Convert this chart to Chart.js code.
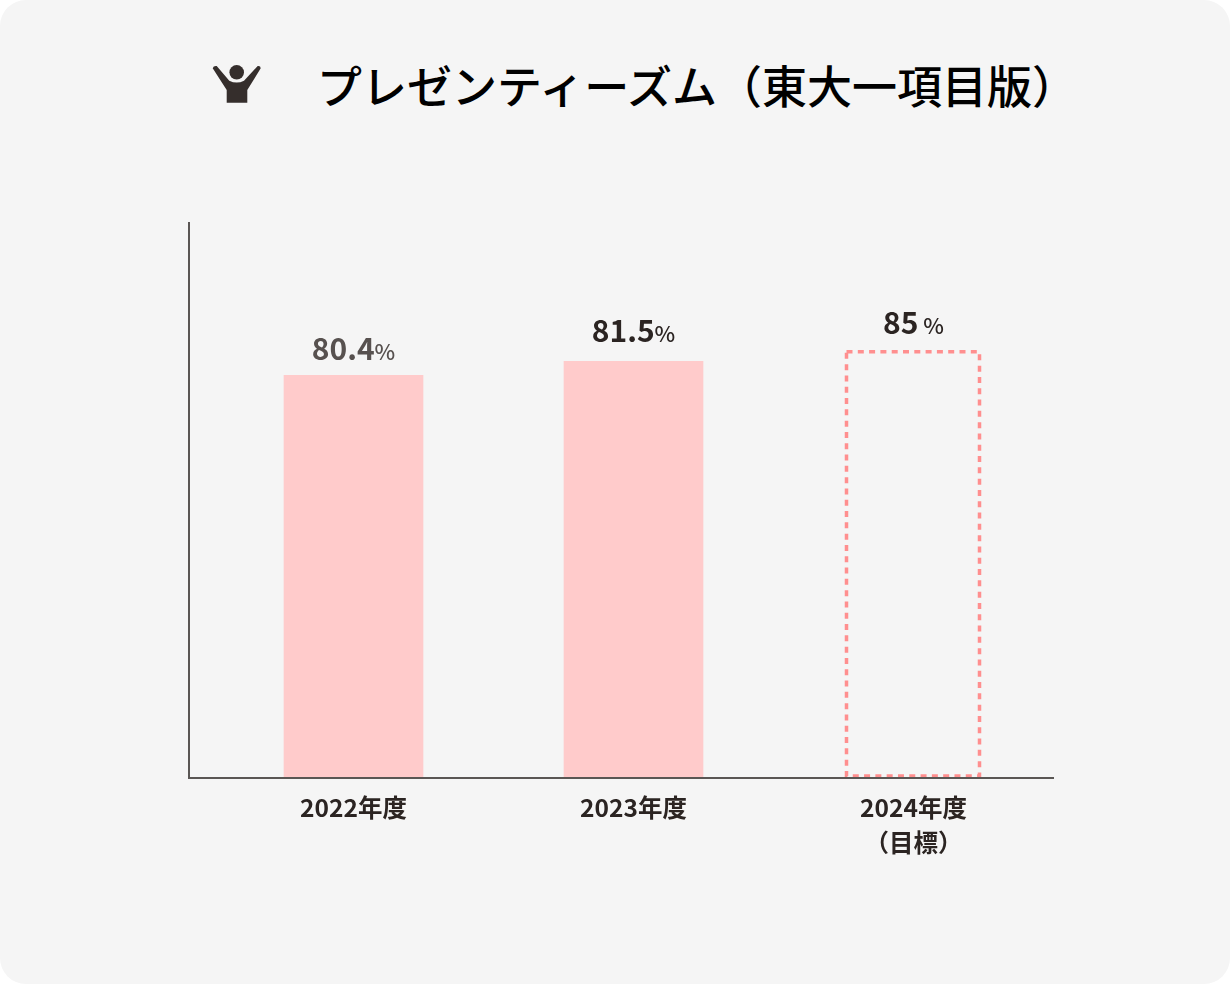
<!DOCTYPE html>
<html lang="ja">
<head>
<meta charset="utf-8">
<title>プレゼンティーズム（東大一項目版）</title>
<script src="https://cdn.jsdelivr.net/npm/chart.js@4/dist/chart.umd.min.js"></script>
<style>
  html, body { margin: 0; padding: 0; background: #fff; }
  body { width: 1230px; height: 984px; overflow: hidden; font-family: "Noto Sans CJK JP", sans-serif; }
  #card { position: absolute; left: 0; top: 0; width: 1230px; height: 984px; background: #f5f5f5; border-radius: 26px; }
  #icon { position: absolute; left: 212px; top: 64px; }
  #title { position: absolute; left: 317px; top: 53px; font-size: 45px; line-height: 64px; color: #000; white-space: nowrap; font-weight: 500; }
  canvas { position: absolute; left: 0; top: 0; }
</style>
</head>
<body>
<div id="card"></div>
<svg id="icon" width="50" height="42" viewBox="0 0 50 42">
  <circle cx="24.7" cy="8.3" r="7.3" fill="#352e2c"/>
  <path d="M0.7 4.3 Q1.5 1.5 4.7 2 L17.3 16.7 Q24.7 20.5 32 16.7 L45.7 2 Q48.5 1.5 48.7 4.3 L35.3 26 L35.3 38.7 L14.7 38.7 L14.7 26 Z" fill="#352e2c"/>
</svg>
<div id="title">プレゼンティーズム（東大一項目版）</div>
<canvas id="chart" width="1230" height="984"></canvas>
<script>
const categories = [["2022年度"], ["2023年度"], ["2024年度", "（目標）"]];
const valueLabels = ["80.4", "81.5", "85"];
// bar heights as drawn in the picture (the 2023 bar is taller than its label says)
const barValues = [80.4, 83.2, 85];

const AXIS = "#5a5654";
const TEXT = "#2b2422";
const PINK = "#ffcbcb";
const DASH = "#ff8f8f";

// dashed target box + value labels, positions come from the bar elements
const barExtras = {
  id: "barExtras",
  afterDatasetsDraw(chart) {
    const ctx = chart.ctx;
    const bars = chart.getDatasetMeta(0).data;

    const b = bars[2];
    ctx.save();
    ctx.strokeStyle = DASH;
    ctx.lineWidth = 3.5;
    ctx.setLineDash([6, 5.3]);
    ctx.strokeRect(b.x - b.width / 2 + 2.5, b.y - 0.5, b.width - 6, b.base - b.y - 1.5);
    ctx.restore();

    const gaps = [15, 19, 18];
    const colors = ["#57514f", TEXT, TEXT];
    const spaces = [0, 0, 5];
    bars.forEach((bar, i) => {
      ctx.save();
      ctx.textBaseline = "alphabetic";
      ctx.fillStyle = colors[i];
      ctx.font = 'bold 30px "Noto Sans CJK JP"';
      const w1 = ctx.measureText(valueLabels[i]).width;
      ctx.font = '500 22px "Noto Sans CJK JP"';
      const w2 = ctx.measureText("%").width;
      let x = bar.x - (w1 + w2 + spaces[i]) / 2;
      const y = bar.y - gaps[i];
      ctx.textAlign = "left";
      ctx.font = 'bold 30px "Noto Sans CJK JP"';
      ctx.fillText(valueLabels[i], x, y);
      ctx.font = '500 22px "Noto Sans CJK JP"';
      ctx.fillText("%", x + w1 + spaces[i], y);
      ctx.restore();
    });
  }
};

new Chart(document.getElementById("chart").getContext("2d"), {
  type: "bar",
  data: {
    datasets: [{
      data: barValues.map((v, i) => ({ x: i, y: v })),
      backgroundColor: [PINK, PINK, "rgba(0,0,0,0)"],
      borderWidth: 0,
      barThickness: 139
    }]
  },
  options: {
    responsive: false,
    animation: false,
    devicePixelRatio: 1,
    layout: { padding: { left: 189, top: 223, right: 177, bottom: 0 } },
    plugins: { legend: { display: false }, tooltip: { enabled: false } },
    scales: {
      x: {
        type: "linear",
        offset: false,
        min: -0.5875,
        max: 2.4982,
        afterFit: (s) => { s.height = 206; },
        afterBuildTicks: (s) => { s.ticks = categories.map((c, i) => ({ value: i })); },
        grid: { display: false },
        border: { display: true, color: AXIS, width: 2, z: 1 },
        ticks: {
          autoSkip: false,
          maxRotation: 0,
          padding: 4,
          color: TEXT,
          font: { family: '"Noto Sans CJK JP"', size: 24.5, weight: "bold", lineHeight: 1.43 },
          callback: (v) => categories[v]
        }
      },
      y: {
        min: 0,
        max: 110.8,
        afterFit: (s) => { s.width = 0; },
        grid: { display: false },
        border: { display: true, color: AXIS, width: 2, z: 1 },
        ticks: { display: false }
      }
    }
  },
  plugins: [barExtras]
});
</script>
</body>
</html>
